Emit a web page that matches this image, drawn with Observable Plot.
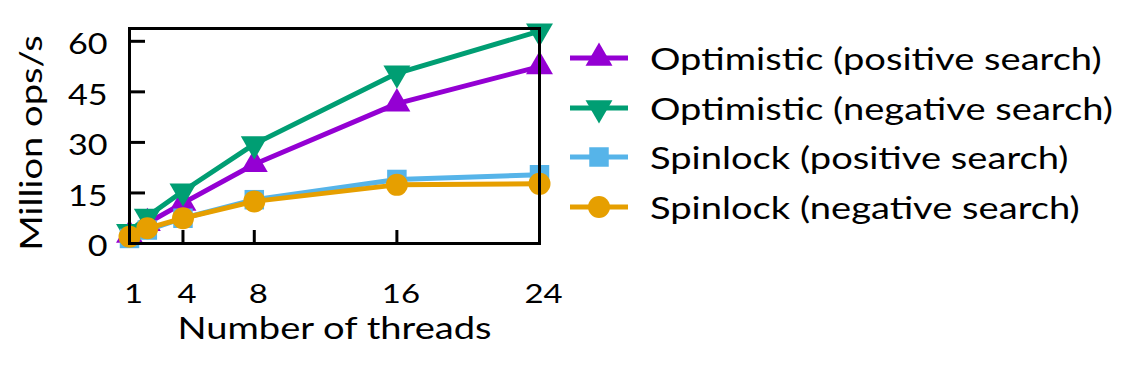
<!DOCTYPE html>
<html><head><meta charset="utf-8">
<script src="https://cdn.jsdelivr.net/npm/d3@7"></script>
<script src="https://cdn.jsdelivr.net/npm/@observablehq/plot@0.6"></script>
<style>
body{margin:0;background:#fff;}
#wrap{position:relative;width:1129px;height:367px;overflow:hidden;}
#legend{position:absolute;left:0;top:0;font-family:Lato,sans-serif;font-size:30px;color:#000;}
.row{position:absolute;left:568px;display:flex;align-items:center;height:50px;white-space:nowrap;}
.row svg{margin-right:20px;flex:none;}
.row span{display:inline-block;transform:scaleX(1.27);transform-origin:left center;}
</style></head><body><div id="wrap"><div id="chart"></div><div id="legend"></div></div>
<script>
const threads = [1, 2, 4, 8, 16, 24];
const xTicks = [1, 4, 8, 16, 24];
const yTicks = [0, 15, 30, 45, 60];
const xLabel = "Number of threads";
const yLabel = "Million ops/s";
const seriesNames = ["Optimistic (positive search)", "Optimistic (negative search)", "Spinlock (positive search)", "Spinlock (negative search)"];
const optPos = [2.5, 6, 12, 23.5, 41.5, 52.5];
const optNeg = [3.5, 8, 15.5, 29.5, 50.5, 63];
const spinPos = [1.5, 4, 7.5, 13, 19, 20.4];
const spinNeg = [2, 4.5, 7.5, 12.5, 17.4, 17.7];
const colors = ["#9400D3", "#009E73", "#56B4E9", "#E69F00"];
const symbols = ["triangle", "triangle", "square", "circle"];
const rotations = [0, 180, 0, 0];
const radii = [10, 10, 11, 11];

const values = [optPos, optNeg, spinPos, spinNeg];
const marks = [];
values.forEach((vals, i) => {
  const data = threads.map((t, j) => ({t, v: vals[j]}));
  marks.push(Plot.line(data, {x: "t", y: "v", stroke: colors[i], strokeWidth: 5}));
  marks.push(Plot.dot(data, {x: "t", y: "v", fill: colors[i], stroke: null, symbol: symbols[i], r: radii[i], rotate: rotations[i]}));
});

const chart = Plot.plot({
  width: 1129, height: 367,
  marginLeft: 129, marginRight: 590, marginTop: 28, marginBottom: 124,
  style: {fontFamily: "Lato, sans-serif", fontSize: "30px", color: "#000", background: "#fff"},
  x: {domain: [1, 24], label: null},
  y: {domain: [0, 63.8], label: null},
  marks: [
    ...marks,
    Plot.axisY({ticks: yTicks, tickSize: 16, dx: 16, strokeWidth: 3, tickFormat: () => "", label: null}),
    Plot.axisX({ticks: xTicks.slice(1, 4), tickSize: 13, dy: -13, strokeWidth: 3, tickFormat: () => "", label: null}),
    Plot.frame({stroke: "#000", strokeWidth: 3}),
    Plot.axisY({ticks: yTicks, tickSize: 0, tickPadding: 22, dy: 4, fontSize: 28, label: null}),
    Plot.axisX({ticks: xTicks, tickSize: 0, tickPadding: 40, dx: 4, fontSize: 27, label: null}),
    Plot.text([xLabel], {frameAnchor: "bottom", text: d => d, textAnchor: "middle", dy: 95, lineAnchor: "bottom", fontSize: 30}),
    Plot.text([yLabel], {frameAnchor: "left", text: d => d, textAnchor: "middle", rotate: -90, dx: -109, dy: 7, lineAnchor: "top", fontSize: 30})
  ]
});
document.getElementById("chart").appendChild(chart);

// horizontally widen glyphs to match the reference's wide typeface
chart.querySelectorAll("text").forEach(t => {
  const fsEl = t.closest("[font-size]");
  const fs = +(t.getAttribute("font-size") || (fsEl ? fsEl.getAttribute("font-size") : 30));
  const s = fs >= 30 ? 1.27 : 1.22;
  const x = t.getAttribute("x");
  if (x != null && !isNaN(+x)) t.setAttribute("x", +x / s);
  const tr = t.getAttribute("transform") || "";
  t.setAttribute("transform", `${tr} scale(${s},1)`);
});

const legend = document.getElementById("legend");
seriesNames.forEach((name, i) => {
  const row = document.createElement("div");
  row.className = "row";
  row.style.top = (33 + i * 49.6) + "px";
  const s = d3.create("svg").attr("width", 62).attr("height", 40);
  s.append("line").attr("x1", 2).attr("x2", 60).attr("y1", 20).attr("y2", 20).attr("stroke", colors[i]).attr("stroke-width", 5);
  const sym = {triangle: d3.symbolTriangle, square: d3.symbolSquare, circle: d3.symbolCircle}[symbols[i]];
  s.append("path").attr("d", d3.symbol(sym, Math.PI * radii[i] * radii[i])())
    .attr("transform", `translate(31,20) rotate(${rotations[i]})`).attr("fill", colors[i]);
  row.appendChild(s.node());
  const span = document.createElement("span");
  span.textContent = name;
  row.appendChild(span);
  legend.appendChild(row);
});
</script></body></html>
